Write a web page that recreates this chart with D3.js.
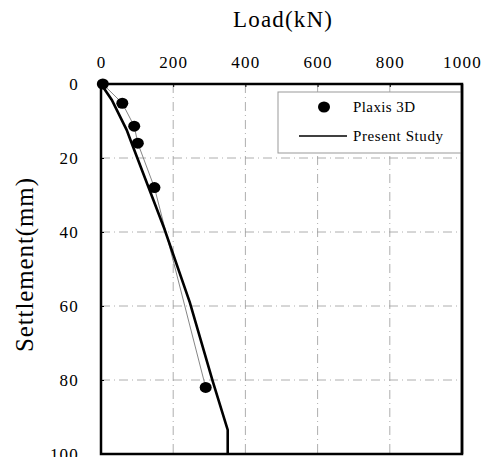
<!DOCTYPE html>
<html><head><meta charset="utf-8">
<script src="https://cdn.jsdelivr.net/npm/d3@7"></script>
<style>body{margin:0;background:#fff}svg{display:block}text{font-family:"Liberation Serif","DejaVu Serif",serif;fill:#000}</style>
</head><body><svg id="c" width="492" height="457"></svg>
<script>
const xTicks = [0, 200, 400, 600, 800, 1000];
const yTicks = [0, 20, 40, 60, 80, 100];
const plaxisLoad = [5, 59, 92, 102, 148, 290];
const plaxisSettle = [0, 5.2, 11.4, 16, 28, 82];
const studyLoad = [0, 30, 71, 85, 175, 246, 310, 351, 351];
const studySettle = [0, 4.3, 12.4, 16, 39, 59, 80.5, 93.5, 100];
const seriesNames = ["Plaxis 3D", "Present Study"];

const svg = d3.select("#c");
const m = {l: 101, r: 462, t: 84, b: 454};
const x = d3.scaleLinear().domain([0, 1000]).range([m.l, m.r]);
const y = d3.scaleLinear().domain([0, 100]).range([m.t, m.b]);

// grid
const g = svg.append("g");
g.selectAll("line.v").data(xTicks.slice(1, -1)).enter().append("line")
  .attr("x1", d => x(d)).attr("x2", d => x(d)).attr("y1", m.t).attr("y2", m.b)
  .attr("stroke", "#999").attr("stroke-width", 0.8).attr("stroke-dasharray", "9,4,1,4");
g.selectAll("line.h").data(yTicks.slice(1, -1)).enter().append("line")
  .attr("x1", m.l).attr("x2", m.r).attr("y1", d => y(d)).attr("y2", d => y(d))
  .attr("stroke", "#999").attr("stroke-width", 0.8).attr("stroke-dasharray", "9,4,1,4");

// axes
const xa = svg.append("g").attr("transform", `translate(0,${m.t})`)
  .call(d3.axisTop(x).tickValues(xTicks).tickSize(-3).tickPadding(16).tickFormat(d3.format("d")));
const ya = svg.append("g").attr("transform", `translate(${m.l},0)`)
  .call(d3.axisLeft(y).tickValues(yTicks).tickSize(-3).tickPadding(22).tickFormat(d3.format("d")));
[xa, ya].forEach(a => {
  a.select(".domain").remove();
  a.selectAll("text").attr("font-size", 17).attr("letter-spacing", 1.2).style("font-family", '"Liberation Serif",serif');
  a.selectAll("line").attr("stroke", "#000");
});

// frame
svg.append("rect").attr("x", m.l).attr("y", m.t).attr("width", m.r - m.l).attr("height", m.b - m.t)
  .attr("fill", "none").attr("stroke", "#000").attr("stroke-width", 2.5);

// titles
svg.append("text").attr("x", 233).attr("y", 27).attr("font-size", 23)
  .attr("textLength", 99).attr("lengthAdjust", "spacing").text("Load(kN)");
svg.append("text").attr("transform", "translate(33,352) rotate(-90)").attr("font-size", 25)
  .attr("textLength", 174).attr("lengthAdjust", "spacing").text("Settlement(mm)");

// plaxis connecting line
const pts = plaxisLoad.map((d, i) => [d, plaxisSettle[i]]);
const line = d3.line().x(d => x(d[0])).y(d => y(d[1]));
svg.append("path").datum(pts).attr("d", line).attr("fill", "none").attr("stroke", "#777").attr("stroke-width", 0.9);

// present study
const sp = studyLoad.map((d, i) => [d, studySettle[i]]);
svg.append("path").datum(sp).attr("d", line).attr("fill", "none").attr("stroke", "#000").attr("stroke-width", 2.6);

// markers
svg.selectAll("ellipse.p").data(pts).enter().append("ellipse")
  .attr("cx", d => x(d[0])).attr("cy", d => y(d[1])).attr("rx", 6).attr("ry", 5.5).attr("fill", "#000");

// legend
const lg = svg.append("g");
lg.append("rect").attr("x", 278).attr("y", 92).attr("width", 183).attr("height", 61)
  .attr("fill", "#fff").attr("stroke", "#999").attr("stroke-width", 1);
lg.append("ellipse").attr("cx", 324).attr("cy", 107).attr("rx", 6).attr("ry", 5.5).attr("fill", "#000");
lg.append("line").attr("x1", 299).attr("x2", 347).attr("y1", 136).attr("y2", 136).attr("stroke", "#000").attr("stroke-width", 1.6);
lg.append("text").attr("x", 353).attr("y", 112).attr("font-size", 15)
  .attr("textLength", 62).attr("lengthAdjust", "spacing").text(seriesNames[0]);
lg.append("text").attr("x", 353).attr("y", 141).attr("font-size", 15)
  .attr("textLength", 90).attr("lengthAdjust", "spacing").text(seriesNames[1]);
svg.append("line").attr("x1", m.r).attr("x2", m.r).attr("y1", m.t).attr("y2", m.b).attr("stroke", "#000").attr("stroke-width", 2.5);
</script></body></html>
